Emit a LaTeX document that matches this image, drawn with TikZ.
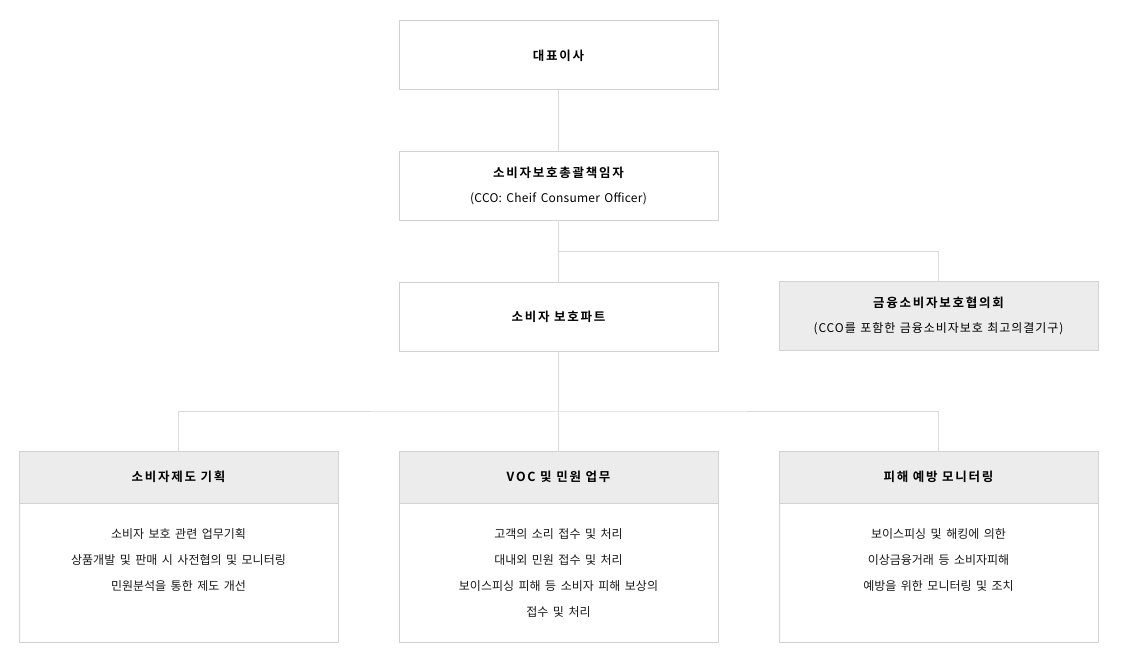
\documentclass[tikz,border=0pt]{standalone}
\usepackage{fontspec}
\setmainfont{Noto Sans CJK KR}[BoldFont={Noto Sans CJK KR Bold}]
\usetikzlibrary{positioning}
\definecolor{boxline}{HTML}{D2D2D2}
\definecolor{boxfill}{HTML}{ECECEC}
\definecolor{linkline}{HTML}{DADADA}
\newcommand{\titlefont}{\fontsize{12.5}{26}\selectfont\bfseries\addfontfeature{LetterSpace=14}}
\newcommand{\subfont}{\normalfont\fontsize{12}{26}\selectfont\spaceskip=4.5pt}

\begin{document}
\begin{tikzpicture}[x=1pt,y=1pt,
	box/.style={draw=boxline,line width=1pt,minimum width=319pt,minimum height=69pt,inner sep=0pt,outer sep=0pt,align=center,font=\titlefont},
	head/.style={box,minimum height=52pt,fill=boxfill},
	body/.style={box,minimum height=139pt},
	bodytext/.style={inner sep=0pt,align=center,font=\subfont,text=black!90},
	link/.style={draw=linkline,line width=1pt}]
	\useasboundingbox (0,0) rectangle (1123,-658);
	\node[box] (ceo) at (558.5,-55.5) {\raisebox{-3pt}{대표이사}};
	\node[box,below=61pt of ceo] (cco) {\raisebox{-2pt}{소비자보호총괄책임자}\\[1pt]\subfont\addfontfeature{LetterSpace=2} (CCO: Cheif Consumer Officer)};
	\node[box,below=62pt of cco] (part) {\raisebox{-3pt}{소비자 보호파트}};
	\node[box,fill=boxfill,right=61pt of part,yshift=0.5pt] (council) {\raisebox{-2pt}{금융소비자보호협의회}\\[1pt]\subfont\addfontfeature{LetterSpace=8} (CCO를 포함한 금융소비자보호 최고의결기구)};
	% bottom row
	\node[head] (mhead) at (558.5,-477) {\raisebox{-2pt}{VOC 및 민원 업무}};
	\node[head,left=61pt of mhead] (lhead) {\raisebox{-2pt}{소비자제도 기획}};
	\node[head,right=61pt of mhead] (rhead) {\raisebox{-2pt}{피해 예방 모니터링}};
	\node[body,below=0pt of lhead] (lbody) {};
	\node[body,below=0pt of mhead] (mbody) {};
	\node[body,below=0pt of rhead] (rbody) {};
	\node[bodytext,below=25pt of lhead.south] (ltext) {소비자 보호 관련 업무기획\\상품개발 및 판매 시 사전협의 및 모니터링\\민원분석을 통한 제도 개선};
	\node[bodytext,below=25pt of mhead.south] (mtext) {고객의 소리 접수 및 처리\\대내외 민원 접수 및 처리\\보이스피싱 피해 등 소비자 피해 보상의\\접수 및 처리};
	\node[bodytext,below=25pt of rhead.south] (rtext) {보이스피싱 및 해킹에 의한\\이상금융거래 등 소비자피해\\예방을 위한 모니터링 및 조치};
	% connectors
	\draw[link] (ceo) -- (cco);
	\draw[link] (cco) -- (part);
	\draw[link] (cco.south) |- ([yshift=30pt]council.north) -- (council.north);
	\draw[link] (part) -- (mhead);
	\draw[link] (lhead.north) |- ([yshift=40pt]mhead.north) -| (rhead.north);
\end{tikzpicture}
\end{document}
